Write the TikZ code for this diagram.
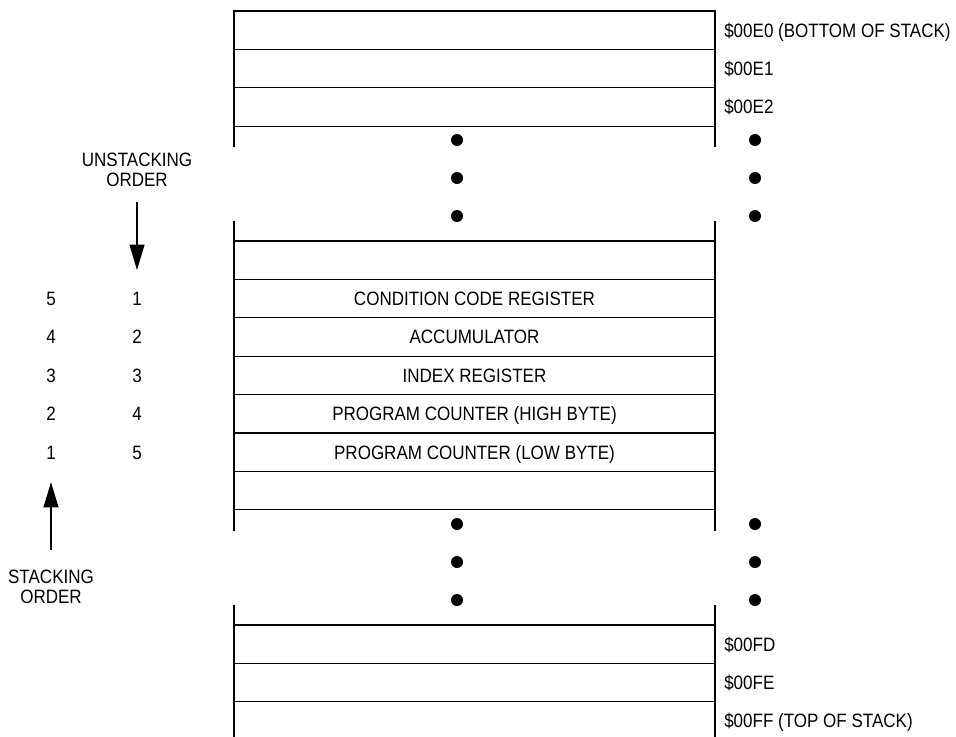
\documentclass[tikz,border=0pt]{standalone}
\usepackage{fontspec}
\setmainfont[FakeStretch=0.88]{Liberation Sans}
\usetikzlibrary{arrows.meta}
\def\rowh{38.4}

\begin{document}
\begin{tikzpicture}[x=0.75pt,y=-0.75pt,
    font=\fontsize{14.5}{15}\selectfont,
    wall/.style={line width=2pt,line join=miter},
    rule/.style={line width=1pt},
    txt/.style={inner sep=0pt,text height=10.4pt,text depth=0pt},
    addr/.style={txt,anchor=west},
    order/.style={inner sep=0pt,align=center},
    dot/.style={circle,fill,inner sep=0pt,minimum size=9pt},
    push/.style={-{Triangle[length=19pt,width=11pt]},line width=1.6pt}]
  \useasboundingbox (0,0) rectangle (956,736);

  % bottom of stack
  \draw[wall] (234,147) -- (234,11) -- (715,11) -- (715,147);
  \foreach \i in {1,2,3}
    \draw[rule] (234,{11+\i*\rowh}) -- (715,{11+\i*\rowh});
  \node[addr] (a0) at (724,{11+0.5*\rowh}) {\$00E0 (BOTTOM OF STACK)};
  \node[addr] (a1) at (724,{11+1.5*\rowh}) {\$00E1};
  \node[addr] (a2) at (724,{11+2.5*\rowh}) {\$00E2};

  % middle part with the saved registers
  \foreach \x in {234,715}
    \draw[wall] (\x,221) -- (\x,531);
  \foreach \i in {0,...,7}
    \draw[rule] (234,{241+\i*\rowh}) -- (715,{241+\i*\rowh});
  \foreach \t [count=\i] in {CONDITION CODE REGISTER,ACCUMULATOR,INDEX REGISTER,
      PROGRAM COUNTER (HIGH BYTE),PROGRAM COUNTER (LOW BYTE)} {
    \pgfmathtruncatemacro\n{6-\i}
    \node[txt] (r\i) at (474.5,{241+(\i+0.5)*\rowh}) {\t};
    \node[txt] (s\n) at (51,{241+(\i+0.5)*\rowh}) {\n};
    \node[txt] (u\i) at (137,{241+(\i+0.5)*\rowh}) {\i};
  }

  % top of stack
  \foreach \x in {234,715}
    \draw[wall] (\x,605) -- (\x,740);
  \foreach \i in {0,1,2}
    \draw[rule] (234,{625+\i*\rowh}) -- (715,{625+\i*\rowh});
  \node[addr] (fd) at (724,{625+0.5*\rowh}) {\$00FD};
  \node[addr] (fe) at (724,{625+1.5*\rowh}) {\$00FE};
  \node[addr] (ff) at (724,{625+2.5*\rowh}) {\$00FF (TOP OF STACK)};

  % dots for the rows left out
  \foreach \y in {140,178,216,524,562,600} {
    \node[dot] at (457,\y) {};
    \node[dot] at (755,\y) {};
  }

  % order arrows
  \node[order] (unstack) at (137,170) {UNSTACKING\\ORDER};
  \node[order] (stack) at (51,587) {STACKING\\ORDER};
  \draw[push,shorten <=11pt,shorten >=16pt] (unstack.south) -- (u1.north);
  \draw[push,shorten <=15pt,shorten >=17pt] (stack.north) -- (s1.south);
\end{tikzpicture}
\end{document}
